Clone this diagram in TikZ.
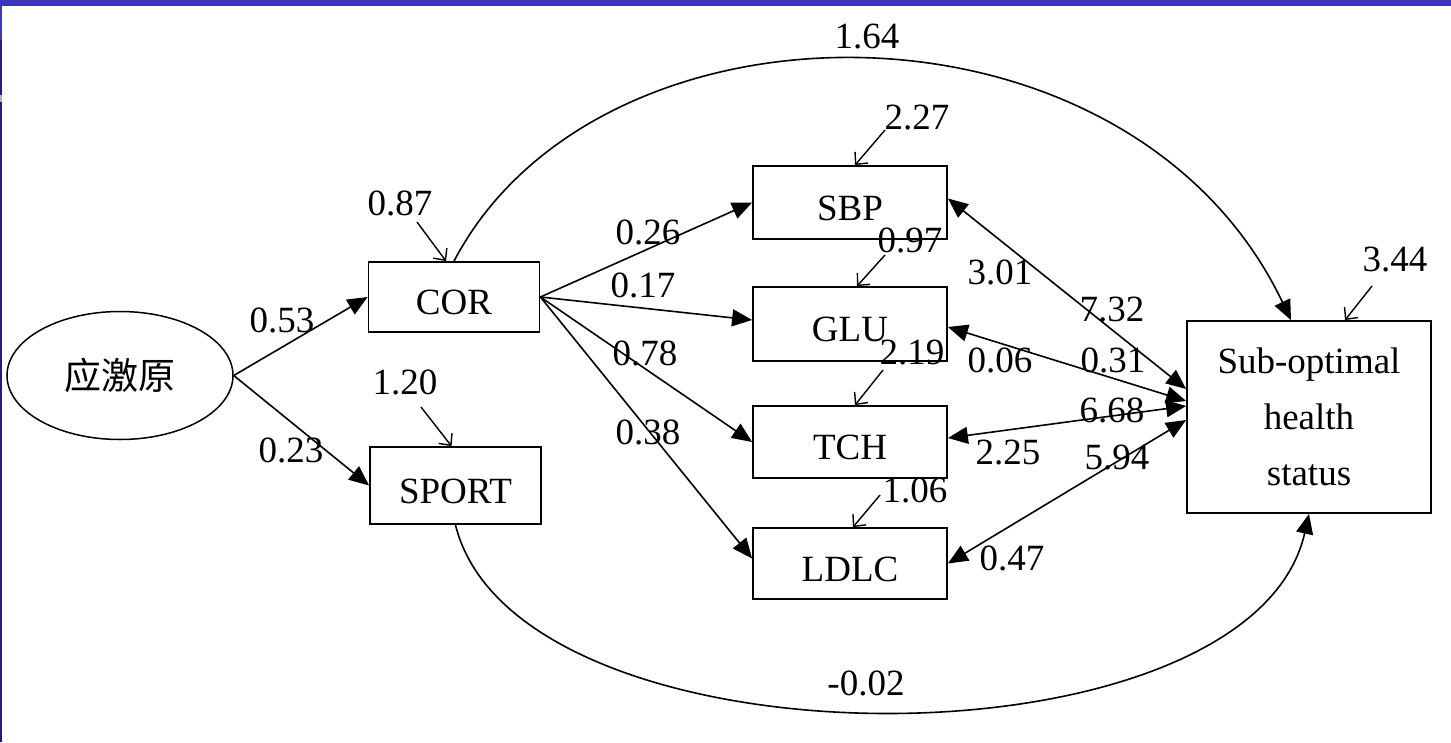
\documentclass[tikz,border=0pt]{standalone}
\usepackage{fontspec}
\setmainfont{Liberation Serif}
\newfontfamily\cjkfont{Noto Sans CJK SC}
\usetikzlibrary{arrows.meta,shapes.geometric}

\definecolor{slideblue}{RGB}{58,55,189}
\definecolor{slidenavy}{RGB}{32,28,122}

\begin{document}
\begin{tikzpicture}[x=1pt,y=-1pt,>={Triangle[length=20pt,width=17pt]},
    every node/.style={font=\fontsize{37}{56}\selectfont},
    var node/.style={rectangle,draw,line width=1.8pt,inner sep=0pt},
    low text/.style={text height=35pt,text depth=0pt},
    val/.style={inner sep=0pt},
    link/.style={->,line width=1.6pt},
    both/.style={<->,line width=1.6pt},
    err/.style={-{Straight Barb[length=9pt,width=17pt]},line width=1.4pt}]

    % slide frame
    \useasboundingbox (0,0) rectangle (1451,742);
    \fill[white] (0,0) rectangle (1451,742);
    \fill[slideblue] (0,0) rectangle (1451,6);
    \fill[slideblue] (0,6) rectangle (2,40);
    \fill[slidenavy] (0,40) rectangle (2,742);
    \fill[black!30] (0,95) rectangle (2,102);

    % variables
    \node[ellipse,draw,line width=1.5pt,inner sep=0pt,minimum width=226pt,minimum height=128pt] (stress) at (120,375.5) {\cjkfont 应激原};
    \node[var node,low text,minimum width=171pt,minimum height=70pt] (cor) at (454,297) {COR};
    \node[var node,low text,minimum width=171pt,minimum height=77pt] (sport) at (455.5,485.5) {SPORT};
    \node[var node,low text,minimum width=194pt,minimum height=73pt] (sbp) at (850,202.5) {SBP};
    \node[var node,low text,minimum width=194pt,minimum height=74pt] (glu) at (850,324) {GLU};
    \node[var node,low text,minimum width=194pt,minimum height=72pt] (tch) at (850,442) {TCH};
    \node[var node,low text,minimum width=194pt,minimum height=71pt] (ldlc) at (850,563.5) {LDLC};
    \node[var node,minimum width=244pt,minimum height=192pt,align=center] (soh) at (1309,417) {Sub-optimal\\health\\status};

    % paths
    \draw[link] (stress.east) -- (cor.west);
    \draw[link] (stress.east) -- (sport.west);
    \draw[link] (cor.east) -- (sbp.west);
    \draw[link] (cor.east) -- ([yshift=4pt]glu.west);
    \draw[link] (cor.east) -- (tch.west);
    \draw[link] (cor.east) -- ([yshift=5pt]ldlc.west);
    \draw[link] (cor.north) .. controls (600,-17) and (1130,-17) .. ([xshift=-18pt]soh.north);
    \draw[link] (sport.south) .. controls (517,775) and (1250,775) .. (soh.south);

    % covariances
    \draw[both] ([yshift=4pt]sbp.east) -- ([yshift=28pt]soh.west);
    \draw[both] ([yshift=-3pt]glu.east) -- ([yshift=16pt]soh.west);
    \draw[both] ([yshift=4pt]tch.east) -- ([yshift=11pt]soh.west);
    \draw[both] (ldlc.east) -- ([yshift=-3pt]soh.west);

    % error terms
    \coordinate (t-cor) at (417,222);
    \coordinate (t-sport) at (421,407);
    \coordinate (t-sbp) at (885,130);
    \coordinate (t-glu) at (885,255);
    \coordinate (t-tch) at (883,370);
    \coordinate (t-ldlc) at (880,495);
    \coordinate (t-soh) at (1372,286);
    \draw[err] (t-cor) -- ([xshift=-8pt]cor.north);
    \draw[err] (t-sport) -- ([xshift=-4pt]sport.north);
    \draw[err] (t-sbp) -- ([xshift=5pt]sbp.north);
    \draw[err] (t-glu) -- ([xshift=7pt]glu.north);
    \draw[err] (t-tch) -- ([xshift=5pt]tch.north);
    \draw[err] (t-ldlc) -- ([xshift=3pt]ldlc.north);
    \draw[err] (t-soh) -- ([xshift=36pt]soh.north);

    % estimates
    \node[val] (v1) at (282,320) {0.53};
    \node[val] (v2) at (291,450) {0.23};
    \node[val] (v3) at (400,203) {0.87};
    \node[val] (v4) at (405,382) {1.20};
    \node[val] (v5) at (867,37) {1.64};
    \node[val] (v6) at (648,232) {0.26};
    \node[val] (v7) at (643,285) {0.17};
    \node[val] (v8) at (645,353) {0.78};
    \node[val] (v9) at (648,432) {0.38};
    \node[val] (v10) at (917,118) {2.27};
    \node[val] (v11) at (910,240) {0.97};
    \node[val] (v12) at (912,353) {2.19};
    \node[val] (v13) at (915,490) {1.06};
    \node[val] (v14) at (1000,272) {3.01};
    \node[val] (v15) at (1112,310) {7.32};
    \node[val] (v16) at (1000,360) {0.06};
    \node[val] (v17) at (1113,360) {0.31};
    \node[val] (v18) at (1112,410) {6.68};
    \node[val] (v19) at (1008,453) {2.25};
    \node[val] (v20) at (1117,458) {5.94};
    \node[val] (v21) at (1012,558) {0.47};
    \node[val] (v22) at (1395,260) {3.44};
    \node[val] (v23) at (866,683) {-0.02};
\end{tikzpicture}
\end{document}
